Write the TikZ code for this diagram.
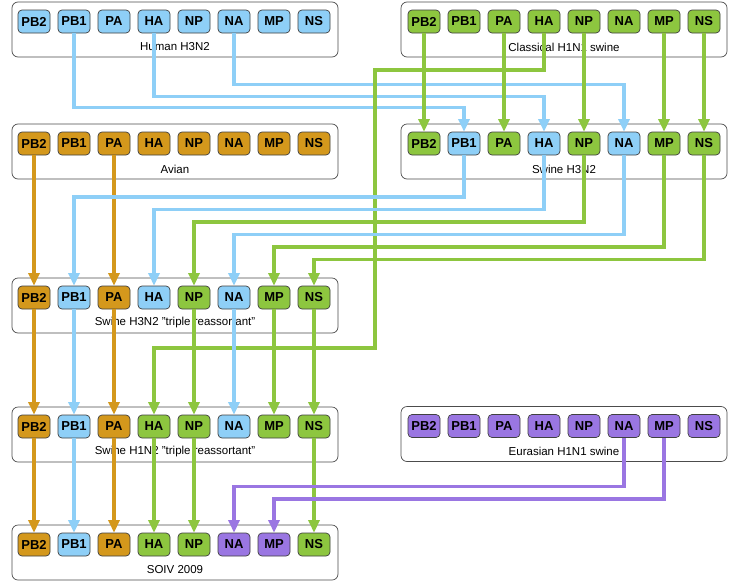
\documentclass[tikz,border=0pt]{standalone}
\usepackage{fontspec}
\setmainfont{Liberation Sans}
\usetikzlibrary{arrows.meta}
\definecolor{cblue}{HTML}{8ECFF7}
\definecolor{cgreen}{HTML}{8DC63F}
\definecolor{corange}{HTML}{D4981C}
\definecolor{cpurple}{HTML}{9A76E2}
\tikzset{
  seg/.style={draw=black!75, line width=0.7pt, rounded corners=4pt, minimum width=32pt, minimum height=23pt, inner sep=0pt, font=\bfseries\fontsize{13}{13}\selectfont},
  grp/.style={draw=black!70, fill=white, line width=0.7pt, rounded corners=6pt, minimum width=326pt, minimum height=55pt, inner sep=0pt},
  glabel/.style={font=\fontsize{11.5}{12}\selectfont, inner sep=0pt},
  conn/.style={line width=3.3pt, -{Triangle[length=12.5pt 0 0,width=11pt 0 0]}},
  cb/.style={conn, draw=cblue},
  cg/.style={conn, draw=cgreen},
  co/.style={conn, draw=corange},
  cp/.style={conn, draw=cpurple},
}
\newcommand{\segrow}[4]{%
  \foreach \n/\c [count=\i from 0] in {#4}
    \node[seg, fill=\c] (#1-\n) at ({#2+40*\i}, #3) {\n};%
}
\newcommand{\dq}{\symbol{34}}
\begin{document}
\begin{tikzpicture}[x=1pt, y=-1pt]
\useasboundingbox (0,0) rectangle (738,581);
% group boxes
\node[grp] (b-hum) at (175,29.5) {};
\node[grp] (b-cla) at (564,29.5) {};
\node[grp] (b-avi) at (175,151.5) {};
\node[grp] (b-sh3) at (564,151.5) {};
\node[grp] (b-tr3) at (175,305.5) {};
\node[grp] (b-tr1) at (175,434.5) {};
\node[grp] (b-eur) at (564,434) {};
\node[grp] (b-soiv) at (175,552.5) {};
% labels
\node[glabel] (l-hum) at (175,47) {Human H3N2};
\node[glabel] (l-cla) at (564,47) {Classical H1N1 swine};
\node[glabel] (l-avi) at (175,169) {Avian};
\node[glabel] (l-sh3) at (564,169) {Swine H3N2};
\node[glabel] (l-tr3) at (175,323) {Swine H3N2 \dq triple reassortant\dq};
\node[glabel] (l-tr1) at (175,452) {Swine H1N2 \dq triple reassortant\dq};
\node[glabel] (l-eur) at (564,451.5) {Eurasian H1N1 swine};
\node[glabel] (l-soiv) at (175,570) {SOIV 2009};
% segments
\segrow{hum}{34}{21.5}{PB2/cblue,PB1/cblue,PA/cblue,HA/cblue,NP/cblue,NA/cblue,MP/cblue,NS/cblue}
\segrow{cla}{424}{21.5}{PB2/cgreen,PB1/cgreen,PA/cgreen,HA/cgreen,NP/cgreen,NA/cgreen,MP/cgreen,NS/cgreen}
\segrow{avi}{34}{143.5}{PB2/corange,PB1/corange,PA/corange,HA/corange,NP/corange,NA/corange,MP/corange,NS/corange}
\segrow{sh3}{424}{143.5}{PB2/cgreen,PB1/cblue,PA/cgreen,HA/cblue,NP/cgreen,NA/cblue,MP/cgreen,NS/cgreen}
\segrow{tr3}{34}{297.5}{PB2/corange,PB1/cblue,PA/corange,HA/cblue,NP/cgreen,NA/cblue,MP/cgreen,NS/cgreen}
\segrow{tr1}{34}{426.5}{PB2/corange,PB1/cblue,PA/corange,HA/cgreen,NP/cgreen,NA/cblue,MP/cgreen,NS/cgreen}
\segrow{eur}{424}{426}{PB2/cpurple,PB1/cpurple,PA/cpurple,HA/cpurple,NP/cpurple,NA/cpurple,MP/cpurple,NS/cpurple}
\segrow{soiv}{34}{544.5}{PB2/corange,PB1/cblue,PA/corange,HA/cgreen,NP/cgreen,NA/cpurple,MP/cpurple,NS/cgreen}
% elbow levels
\coordinate (y85) at (0,84.5);
\coordinate (y97) at (0,96.5);
\coordinate (y108) at (0,107.5);
\coordinate (y197) at (0,197);
\coordinate (y209) at (0,209.5);
\coordinate (y222) at (0,222);
\coordinate (y235) at (0,234.5);
\coordinate (y247) at (0,247);
\coordinate (y260) at (0,259.5);
\coordinate (y487) at (0,486.5);
\coordinate (y499) at (0,499);
\coordinate (k1) at (375,70);
\coordinate (k2) at (375,348);
% Human H3N2 -> Swine H3N2
\draw[cb] (hum-NA.south) -- (hum-NA.south |- y85) -| (sh3-NA.north);
\draw[cb] (hum-HA.south) -- (hum-HA.south |- y97) -| (sh3-HA.north);
\draw[cb] (hum-PB1.south) -- (hum-PB1.south |- y108) -| (sh3-PB1.north);
% Classical -> Swine H3N2
\draw[cg] (cla-PB2.south) -- (sh3-PB2.north);
\draw[cg] (cla-PA.south) -- (sh3-PA.north);
\draw[cg] (cla-NP.south) -- (sh3-NP.north);
\draw[cg] (cla-MP.south) -- (sh3-MP.north);
\draw[cg] (cla-NS.south) -- (sh3-NS.north);
% Classical HA -> Swine H1N2
\draw[cg] (cla-HA.south) |- (k1) -- (k2) -| (tr1-HA.north);
% Avian -> triple H3N2
\draw[co] (avi-PB2.south) -- (tr3-PB2.north);
\draw[co] (avi-PA.south) -- (tr3-PA.north);
% Swine H3N2 -> triple H3N2
\draw[cb] (sh3-PB1.south) -- (sh3-PB1.south |- y197) -| (tr3-PB1.north);
\draw[cb] (sh3-HA.south) -- (sh3-HA.south |- y209) -| (tr3-HA.north);
\draw[cg] (sh3-NP.south) -- (sh3-NP.south |- y222) -| (tr3-NP.north);
\draw[cb] (sh3-NA.south) -- (sh3-NA.south |- y235) -| (tr3-NA.north);
\draw[cg] (sh3-MP.south) -- (sh3-MP.south |- y247) -| (tr3-MP.north);
\draw[cg] (sh3-NS.south) -- (sh3-NS.south |- y260) -| (tr3-NS.north);
% triple H3N2 -> triple H1N2
\draw[co] (tr3-PB2.south) -- (tr1-PB2.north);
\draw[cb] (tr3-PB1.south) -- (tr1-PB1.north);
\draw[co] (tr3-PA.south) -- (tr1-PA.north);
\draw[cg] (tr3-NP.south) -- (tr1-NP.north);
\draw[cb] (tr3-NA.south) -- (tr1-NA.north);
\draw[cg] (tr3-MP.south) -- (tr1-MP.north);
\draw[cg] (tr3-NS.south) -- (tr1-NS.north);
% triple H1N2 -> SOIV
\draw[co] (tr1-PB2.south) -- (soiv-PB2.north);
\draw[cb] (tr1-PB1.south) -- (soiv-PB1.north);
\draw[co] (tr1-PA.south) -- (soiv-PA.north);
\draw[cg] (tr1-HA.south) -- (soiv-HA.north);
\draw[cg] (tr1-NP.south) -- (soiv-NP.north);
\draw[cg] (tr1-NS.south) -- (soiv-NS.north);
% Eurasian -> SOIV
\draw[cp] (eur-NA.south) -- (eur-NA.south |- y487) -| (soiv-NA.north);
\draw[cp] (eur-MP.south) -- (eur-MP.south |- y499) -| (soiv-MP.north);
\end{tikzpicture}
\end{document}
